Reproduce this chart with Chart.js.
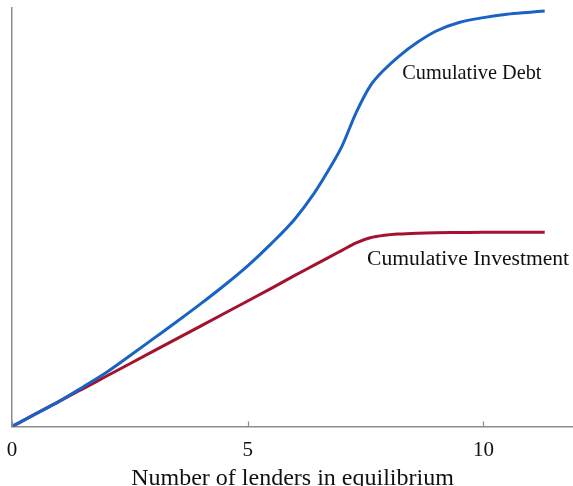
<!DOCTYPE html>
<html>
<head>
<meta charset="utf-8">
<script src="https://cdn.jsdelivr.net/npm/chart.js@4"></script>
<style>
  html, body { margin: 0; padding: 0; background: #ffffff; overflow: hidden; }
  #wrap { width: 573px; height: 486px; }
</style>
</head>
<body>
<div id="wrap"><canvas id="c" width="573" height="486"></canvas></div>
<script>
// Number of lenders in equilibrium (x positions)
const lenders = [0, 0.5, 1, 1.5, 2, 2.5, 3, 3.5, 4, 4.5, 5, 5.5, 6, 6.4, 6.7, 7.0, 7.3, 7.6, 7.9, 8.2, 8.6, 9.0, 9.5, 10, 10.5, 11, 11.3];
// Cumulative Debt (arbitrary units, 0-100)
const cumulativeDebt = [0, 3.0, 6.0, 9.4, 12.9, 16.9, 21.0, 25.1, 29.3, 33.7, 38.4, 43.7, 49.6, 55.6, 61.0, 67.0, 75.0, 81.4, 85.3, 88.4, 91.8, 94.5, 96.6, 97.7, 98.5, 99.0, 99.3];
// Cumulative Investment (arbitrary units, 0-100)
const cumulativeInvestment = [0, 3.0, 6.0, 9.0, 12.0, 15.0, 18.0, 21.0, 24.0, 27.0, 30.0, 33.0, 36.1, 38.5, 40.3, 42.1, 43.9, 45.1, 45.7, 46.0, 46.2, 46.3, 46.35, 46.4, 46.4, 46.4, 46.4];
// x-axis tick labels
const xTicks = [0, 5, 10];
// series names and their in-plot label anchors (data coordinates)
const seriesNames = ["Cumulative Debt", "Cumulative Investment"];
const labelX = [8.28, 7.53];
const labelY = [83.0, 38.6];

const serif = "'Liberation Serif', 'Times New Roman', serif";
const colors = ["#1a63c4", "#a3122e"];
const labelFontSizes = [20.3, 21.6];

const pts = (ys) => lenders.map((x, i) => ({ x: x, y: ys[i] }));

const labelsPlugin = {
  id: 'seriesLabels',
  afterDatasetsDraw(chart) {
    const { ctx, scales: { x, y } } = chart;
    ctx.save();
    ctx.fillStyle = "#111111";
    ctx.textAlign = "left";
    ctx.textBaseline = "alphabetic";
    seriesNames.forEach((name, i) => {
      ctx.font = labelFontSizes[i] + "px " + serif;
      ctx.fillText(name, x.getPixelForValue(labelX[i]), y.getPixelForValue(labelY[i]));
    });
    // inward tick marks on the x axis
    ctx.strokeStyle = "#8c8c8c";
    ctx.lineWidth = 1.2;
    const y0 = y.getPixelForValue(0);
    xTicks.forEach(v => {
      const px = Math.round(x.getPixelForValue(v)) + 0.5;
      ctx.beginPath();
      ctx.moveTo(px, y0);
      ctx.lineTo(px, y0 - 5);
      ctx.stroke();
    });
    ctx.restore();
  }
};

new Chart(document.getElementById('c'), {
  type: 'line',
  data: {
    datasets: [
      { label: seriesNames[0], data: pts(cumulativeDebt), borderColor: colors[0], borderWidth: 3, pointRadius: 0, cubicInterpolationMode: 'monotone', fill: false },
      { label: seriesNames[1], data: pts(cumulativeInvestment), borderColor: colors[1], borderWidth: 3, pointRadius: 0, cubicInterpolationMode: 'monotone', fill: false }
    ]
  },
  options: {
    responsive: false,
    animation: false,
    events: [],
    layout: { padding: { left: 12, right: 0, top: 8, bottom: -7 } },
    plugins: { legend: { display: false }, tooltip: { enabled: false } },
    scales: {
      x: {
        type: 'linear',
        min: 0,
        max: 11.9,
        afterBuildTicks: (scale) => { scale.ticks = xTicks.map(v => ({ value: v })); },
        ticks: { font: { family: serif, size: 21 }, color: '#111111', padding: 3.5, maxRotation: 0, autoSkip: false },
        grid: { display: false },
        border: { display: true, color: '#8c8c8c', width: 1.5 },
        title: { display: true, text: 'Number of lenders in equilibrium', font: { family: serif, size: 24 }, color: '#111111', padding: { top: -2.5, bottom: 0 } }
      },
      y: {
        min: 0,
        max: 100,
        afterFit: (scale) => { scale.width = 0; },
        ticks: { display: false },
        grid: { display: false },
        border: { display: true, color: '#8c8c8c', width: 1.5 }
      }
    }
  },
  plugins: [labelsPlugin]
});
</script>
</body>
</html>
